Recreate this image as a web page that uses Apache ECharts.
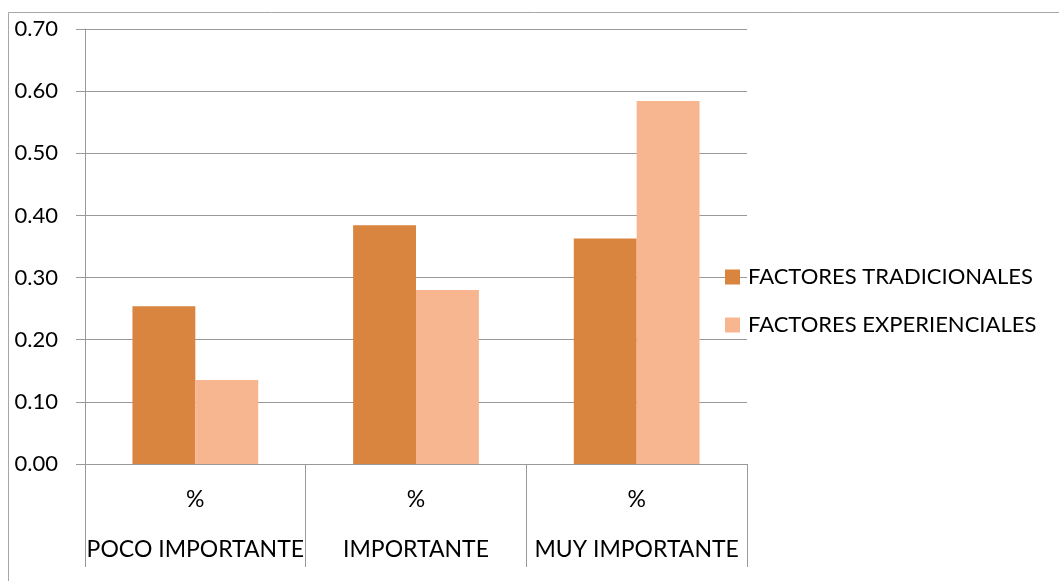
<!DOCTYPE html>
<html>
<head>
<meta charset="utf-8">
<script src="https://cdn.jsdelivr.net/npm/echarts@6/dist/echarts.min.js"></script>
<style>
html,body{margin:0;padding:0;background:#fff;}
#c{width:1059px;height:581px;}
</style>
</head>
<body>
<div id="c"></div>
<script>
var categories = ['POCO IMPORTANTE', 'IMPORTANTE', 'MUY IMPORTANTE'];
var subLabel = '%';
var seriesNames = ['FACTORES TRADICIONALES', 'FACTORES EXPERIENCIALES'];
var tradicionales = [0.254, 0.384, 0.363];
var experienciales = [0.135, 0.280, 0.584];
var yTicks = { min: 0, max: 0.7, interval: 0.1 };

var FONT = 'Lato';
var chart = echarts.init(document.getElementById('c'), null, {renderer: 'canvas'});
chart.setOption({
  animation: false,
  backgroundColor: '#fff',
  graphic: [{
    type: 'rect',
    shape: {x: 8.5, y: 12.5, width: 1200, height: 1000},
    style: {fill: 'none', stroke: '#a6a6a6', lineWidth: 1},
    silent: true, z: -10
  }],
  grid: {left: 85, right: 312, top: 29, bottom: 117, containLabel: false},
  legend: {
    orient: 'vertical',
    left: 725, top: 266,
    padding: 0,
    itemWidth: 15, itemHeight: 15, itemGap: 26,
    icon: 'rect',
    textStyle: {fontFamily: FONT, fontSize: 22, color: '#000', lineHeight: 22, padding: [0,0,0,3]},
    data: seriesNames
  },
  xAxis: {
    type: 'category',
    data: categories,
    axisLine: {lineStyle: {color: '#999', width: 1}},
    axisTick: {show: true, length: 103, interval: 0, lineStyle: {color: '#999'}},
    axisLabel: {
      interval: 0, margin: 11,
      formatter: function (v) { return '{a|' + subLabel + '}\n{b|' + v + '}'; },
      rich: {
        a: {fontFamily: FONT, fontSize: 23, color: '#000', lineHeight: 50},
        b: {fontFamily: FONT, fontSize: 23, color: '#000', lineHeight: 50}
      }
    }
  },
  yAxis: {
    type: 'value',
    min: yTicks.min, max: yTicks.max, interval: yTicks.interval,
    axisLine: {show: true, lineStyle: {color: '#999'}},
    axisTick: {show: true, length: 9, lineStyle: {color: '#999'}},
    splitLine: {show: true, lineStyle: {color: '#999', width: 1}},
    axisLabel: {
      margin: 27, fontFamily: FONT, fontSize: 22, color: '#000',
      formatter: function (v) { return v.toFixed(2); }
    }
  },
  series: [
    {name: seriesNames[0], type: 'bar', data: tradicionales, barGap: '0%', barCategoryGap: '43%',
     itemStyle: {color: '#d9843f'}},
    {name: seriesNames[1], type: 'bar', data: experienciales, barGap: '0%', barCategoryGap: '43%',
     itemStyle: {color: '#f8b690'}}
  ]
});
</script>
</body>
</html>
